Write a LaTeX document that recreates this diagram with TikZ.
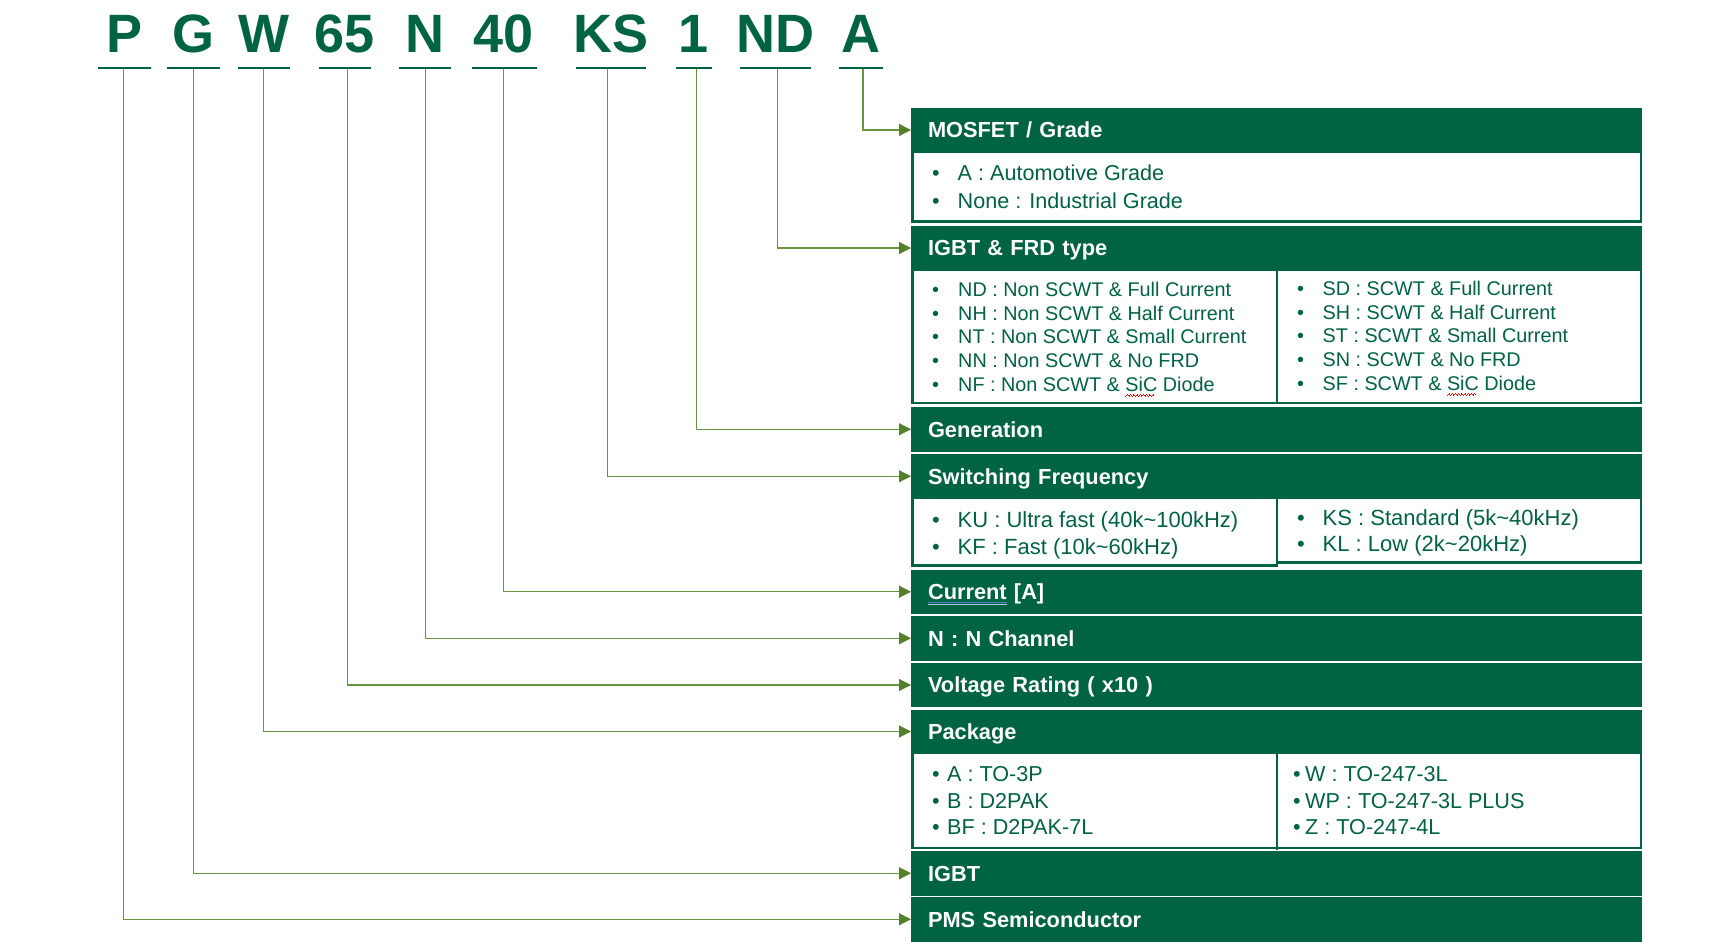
\documentclass[tikz,border=0pt]{standalone}
\usepackage{fontspec}
\setmainfont{Liberation Sans}
\usetikzlibrary{arrows.meta}
\definecolor{dkg}{RGB}{0,99,65}
\definecolor{olv}{RGB}{104,150,64}
\definecolor{olvd}{RGB}{84,128,44}
\definecolor{ulblue}{RGB}{80,130,200}
\newcommand\redwave[1]{\setbox0\hbox{#1}\rlap{\textcolor{red}{\leaders\hbox{\rule[-4.8pt]{0.8pt}{0.6pt}\rule[-4.2pt]{0.8pt}{0.6pt}\rule[-3.6pt]{0.8pt}{0.6pt}\rule[-4.2pt]{0.8pt}{0.6pt}}\hskip\wd0}}#1}
\newcommand\blueul[1]{\setbox0\hbox{#1}\rlap{\textcolor{ulblue}{\rule[-3.4pt]{\wd0}{1.4pt}}}\rlap{\textcolor{ulblue!45}{\rule[-5.2pt]{\wd0}{1pt}}}#1}
\begin{document}
\begin{tikzpicture}[x=1pt,y=-1pt,
  hdr/.style={fill=dkg, text=white, font=\fontsize{21.8}{26}\selectfont\bfseries,
    minimum width=731pt, text width=697pt, align=left, inner xsep=17pt, inner ysep=0pt,
    text height=15.6pt, text depth=0pt, anchor=north west, outer sep=0pt},
  bodybox/.style={draw=dkg, line width=2.5pt, fill=white},
  conn/.style={draw=olv, line width=1.1pt, -{Triangle[length=12pt,width=12pt,color=olvd]}},
  code/.style={text=dkg, font=\fontsize{54}{60}\selectfont\bfseries, anchor=base, inner sep=0pt},
  uline/.style={draw=dkg, line width=2.5pt},
  txt/.style={text=dkg, anchor=base west, inner sep=0pt},
  fa/.style={txt, font=\fontsize{21.6}{26}\selectfont},
  fb/.style={txt, font=\fontsize{19.8}{24}\selectfont},
  fc/.style={txt, font=\fontsize{22}{26}\selectfont},
  fd/.style={txt, font=\fontsize{21.6}{26}\selectfont}]
\useasboundingbox (0,0) rectangle (1729,944);

% ---- code letters ----
\node[code] (kP)  at (124.5,53) {P};
\node[code] (kG)  at (193,53) {G};
\node[code] (kW)  at (264,53) {W};
\node[code] (k65) at (345,53) {65};
\node[code] (kN)  at (425,53) {N};
\node[code] (k40) at (504,53) {40};
\node[code] (kKS) at (611,53) {KS};
\node[code] (k1)  at (694,53) {1};
\node[code] (kND) at (775,53) {ND};
\node[code] (kA)  at (861,53) {A};
\draw[uline] (98,68) -- (151,68);
\draw[uline] (166.8,68) -- (219.6,68);
\draw[uline] (238,68) -- (290,68);
\draw[uline] (319,68) -- (371.3,68);
\draw[uline] (399,68) -- (451,68);
\draw[uline] (472,68) -- (536.6,68);
\draw[uline] (575.8,68) -- (646,68);
\draw[uline] (676,68) -- (711.8,68);
\draw[uline] (740,68) -- (810.6,68);
\draw[uline] (839,68) -- (882.8,68);

% ---- bodies ----
\draw[bodybox] (912.25,152) rectangle (1640.75,221.5);
\draw[bodybox] (912.25,270) rectangle (1640.75,403);
\draw[dkg, line width=2.5pt] (1277,270) -- (1277,403);
\draw[bodybox] (912.25,498) rectangle (1277,565.5);
\draw[bodybox] (1277,498) rectangle (1640.75,562.5);
\draw[bodybox] (912.25,753) rectangle (1640.75,848);
\draw[dkg, line width=2.5pt] (1277,753) -- (1277,850);

% ---- headers ----
\node[hdr, minimum height=44pt]   (mosfet)  at (911,108) {MOSFET / Grade};
\node[hdr, minimum height=44pt]   (igbtfrd) at (911,226) {IGBT \& FRD type};
\node[hdr, minimum height=44.5pt] (gen)     at (911,407) {Generation};
\node[hdr, minimum height=44.5pt] (sw)      at (911,454) {Switching Frequency};
\node[hdr, minimum height=43.5pt] (cur)     at (911,570) {\blueul{Current} [A]};
\node[hdr, minimum height=44.5pt] (nch)     at (911,616) {N : N Channel};
\node[hdr, minimum height=44pt]   (volt)    at (911,663) {Voltage Rating ( x10 )};
\node[hdr, minimum height=43pt]   (pkg)     at (911,710) {Package};
\node[hdr, minimum height=44.5pt] (igbt)    at (911,851) {IGBT};
\node[hdr, minimum height=44.5pt] (pms)     at (911,897) {PMS Semiconductor};

% ---- body texts ----
\node[fa] (ma1b) at (932,181) {•};   \node[fa] (ma1) at (957.5,181) {A : Automotive Grade};
\node[fa] (ma2b) at (932,208.3) {•}; \node[fa] (ma2) at (957.5,208.3) {None : Industrial Grade};

\node[fb] (f1b) at (932,296.5) {•}; \node[fb] (f1) at (958,296.5) {ND : Non SCWT \& Full Current};
\node[fb] (f2b) at (932,320.2) {•}; \node[fb] (f2) at (958,320.2) {NH : Non SCWT \& Half Current};
\node[fb] (f3b) at (932,343.9) {•}; \node[fb] (f3) at (958,343.9) {NT : Non SCWT \& Small Current};
\node[fb] (f4b) at (932,367.6) {•}; \node[fb] (f4) at (958,367.6) {NN : Non SCWT \& No FRD};
\node[fb] (f5b) at (932,391.3) {•}; \node[fb] (f5) at (958,391.3) {NF : Non SCWT \& \redwave{SiC} Diode};
\node[fb] (g1b) at (1297,295.5) {•}; \node[fb] (g1) at (1322.5,295.5) {SD : SCWT \& Full Current};
\node[fb] (g2b) at (1297,319.2) {•}; \node[fb] (g2) at (1322.5,319.2) {SH : SCWT \& Half Current};
\node[fb] (g3b) at (1297,342.9) {•}; \node[fb] (g3) at (1322.5,342.9) {ST : SCWT \& Small Current};
\node[fb] (g4b) at (1297,366.6) {•}; \node[fb] (g4) at (1322.5,366.6) {SN : SCWT \& No FRD};
\node[fb] (g5b) at (1297,390.3) {•}; \node[fb] (g5) at (1322.5,390.3) {SF : SCWT \& \redwave{SiC} Diode};

\node[fc] (s1b) at (932,527.3) {•}; \node[fc] (s1) at (957.5,527.3) {KU : Ultra fast (40k\textasciitilde100kHz)};
\node[fc] (s2b) at (932,554) {•};   \node[fc] (s2) at (957.5,554) {KF : Fast (10k\textasciitilde60kHz)};
\node[fc] (s3b) at (1297,525) {•};  \node[fc] (s3) at (1322.5,525) {KS : Standard (5k\textasciitilde40kHz)};
\node[fc] (s4b) at (1297,551.7) {•};\node[fc] (s4) at (1322.5,551.7) {KL : Low (2k\textasciitilde20kHz)};

\node[fd] (p1b) at (932,781) {•};   \node[fd] (p1) at (947,781) {A : TO-3P};
\node[fd] (p2b) at (932,808.5) {•}; \node[fd] (p2) at (947,808.5) {B : D2PAK};
\node[fd] (p3b) at (932,834.5) {•}; \node[fd] (p3) at (947,834.5) {BF : D2PAK-7L};
\node[fd] (q1b) at (1293,781) {•};   \node[fd] (q1) at (1305,781) {W : TO-247-3L};
\node[fd] (q2b) at (1293,808.5) {•}; \node[fd] (q2) at (1305,808.5) {WP : TO-247-3L PLUS};
\node[fd] (q3b) at (1293,834.5) {•}; \node[fd] (q3) at (1305,834.5) {Z : TO-247-4L};

% ---- connectors ----
\coordinate (cP)  at (123.5,69.5);
\coordinate (cG)  at (193.5,69.5);
\coordinate (cW)  at (263.6,69.5);
\coordinate (c65) at (347.5,69.5);
\coordinate (cN)  at (425.7,69.5);
\coordinate (c40) at (503.6,69.5);
\coordinate (cKS) at (607.7,69.5);
\coordinate (c1)  at (696.6,69.5);
\coordinate (cND) at (777.7,69.5);
\coordinate (cA)  at (863,69.5);
\draw[conn] (cA)  |- (mosfet.west);
\draw[conn] (cND) |- (igbtfrd.west);
\draw[conn] (c1)  |- (gen.west);
\draw[conn] (cKS) |- (sw.west);
\draw[conn] (c40) |- (cur.west);
\draw[conn] (cN)  |- (nch.west);
\draw[conn] (c65) |- (volt.west);
\draw[conn] (cW)  |- (pkg.west);
\draw[conn] (cG)  |- (igbt.west);
\draw[conn] (cP)  |- (pms.west);
\end{tikzpicture}
\end{document}
